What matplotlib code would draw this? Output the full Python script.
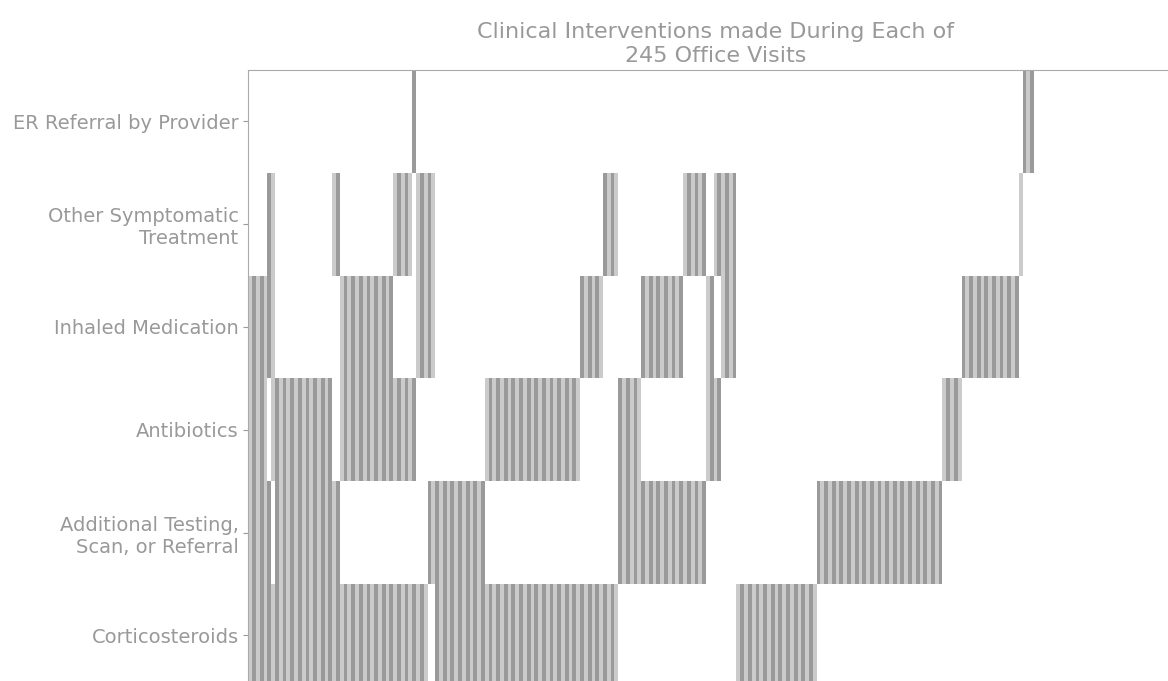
import matplotlib
matplotlib.use("Agg")
import matplotlib.pyplot as plt

# rows from bottom to top
interventions = [
    "Corticosteroids",
    "Additional Testing,\nScan, or Referral",
    "Antibiotics",
    "Inhaled Medication",
    "Other Symptomatic\nTreatment",
    "ER Referral by Provider",
]

# combinations of interventions (row indices) and how many visits had each
combos = [
    (0, 1, 2, 3), (0, 1, 3, 4), (0, 2, 3, 4),
    (0, 1, 2), (0, 1, 4), (0, 2, 3), (0, 2, 4), (0, 2, 5), (0, 3, 4), (1, 3, 4),
    (0, 1), (0, 2), (0, 3), (0, 4), (1, 2), (1, 3), (1, 4), (2, 3), (2, 4), (3, 4),
    (0,), (1,), (2,), (3,), (4,), (5,),
]
counts = [
    5, 1, 1,
    15, 2, 14, 5, 1, 3, 2,
    13, 25, 6, 4, 6, 11, 6, 2, 2, 4,
    21, 33, 5, 15, 1, 3,
]
n_visits = 245

light = "#cbcbcb"
dark = "#9a9a9a"
grey = "#999999"

fig = plt.figure(figsize=(11.68, 6.81), dpi=100)
ax = fig.add_axes([0.2126, -0.0085, 0.8, 0.9057])

visit = 0
for combo, n in zip(combos, counts):
    for _ in range(n):
        c = light if visit % 2 == 0 else dark
        ax.bar([visit] * len(combo), [1] * len(combo), bottom=list(combo),
               width=1, align="edge", color=c, linewidth=0)
        visit += 1

ax.set_xlim(0, n_visits)
ax.set_ylim(0, len(interventions))
ax.set_xticks([])
ax.set_yticks([i + 0.5 for i in range(len(interventions))])
ax.set_yticklabels(interventions)
ax.tick_params(axis="y", colors=grey, labelsize=14)
for s in ax.spines.values():
    s.set_color("#aaaaaa")

ax.set_title("Clinical Interventions made During Each of\n245 Office Visits",
             fontsize=16, color=grey)

fig.savefig("out.png", dpi=100)
